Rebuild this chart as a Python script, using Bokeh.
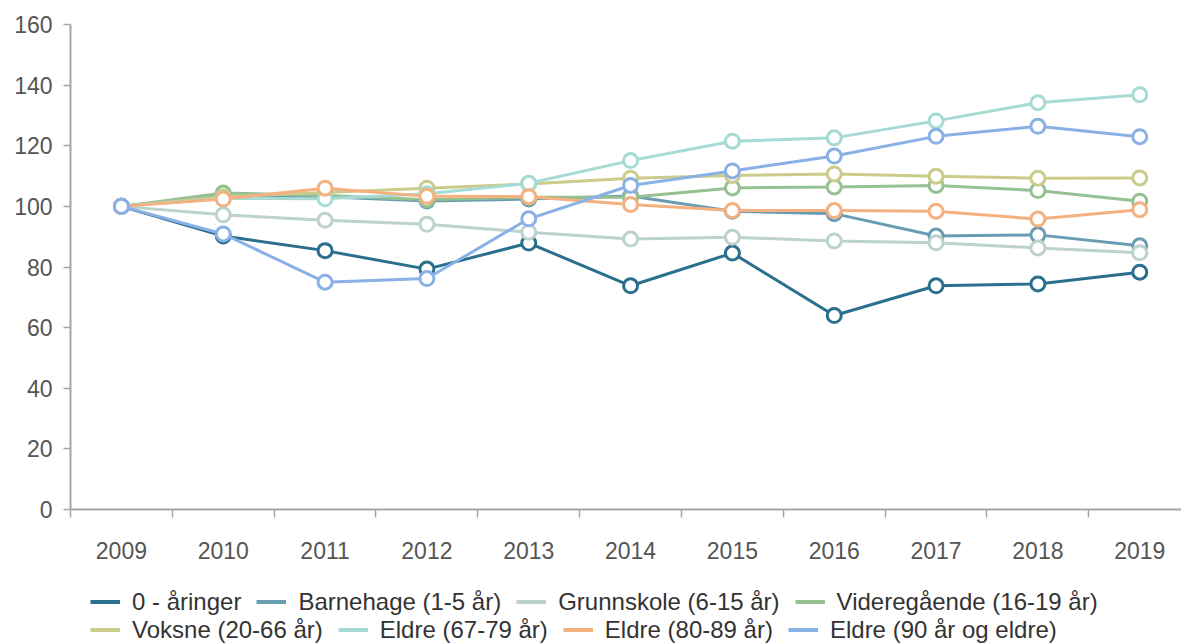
from bokeh.plotting import figure
from bokeh.models import Range1d, FixedTicker, Legend, LegendItem
from bokeh.layouts import column
from bokeh.embed import file_html
from bokeh.resources import INLINE

years = ["2009", "2010", "2011", "2012", "2013", "2014", "2015", "2016", "2017", "2018", "2019"]

names = [
    "0 - åringer",
    "Barnehage (1-5 år)",
    "Grunnskole (6-15 år)",
    "Videregående (16-19 år)",
    "Voksne (20-66 år)",
    "Eldre (67-79 år)",
    "Eldre (80-89 år)",
    "Eldre (90 år og eldre)",
]

aaringer = [100, 90.2, 85.4, 79.3, 87.9, 73.8, 84.6, 64.0, 73.8, 74.4, 78.3]
barnehage = [100, 103.5, 103.2, 101.8, 102.4, 103.4, 98.4, 97.6, 90.2, 90.6, 87.0]
grunnskole = [100, 97.2, 95.4, 94.1, 91.5, 89.2, 89.8, 88.6, 88.0, 86.3, 84.7]
videregaende = [100, 104.4, 103.6, 102.2, 103.0, 103.0, 106.1, 106.4, 106.9, 105.2, 101.7]
voksne = [100, 103.2, 104.6, 106.0, 107.4, 109.3, 110.2, 110.7, 109.9, 109.3, 109.4]
eldre_67_79 = [100, 102.6, 102.5, 104.2, 107.6, 115.1, 121.5, 122.6, 128.2, 134.2, 136.8]
eldre_80_89 = [100, 102.4, 106.0, 103.3, 103.2, 100.6, 98.6, 98.6, 98.4, 95.8, 98.9]
eldre_90 = [100, 90.9, 75.0, 76.2, 95.9, 106.9, 111.7, 116.6, 123.1, 126.4, 123.0]

series = [aaringer, barnehage, grunnskole, videregaende, voksne, eldre_67_79, eldre_80_89, eldre_90]
colors = ["#2b6f8e", "#6a9db2", "#bcd2cd", "#95c092", "#cbcb8b", "#a6dbd3", "#f4b07f", "#8ab1e6"]

y_ticks = [0, 20, 40, 60, 80, 100, 120, 140, 160]

FONT = "Liberation Sans"
x = list(range(len(years)))

# ---------------- main chart ----------------
p = figure(width=1181, height=585, output_backend="svg", toolbar_location=None,
           x_range=Range1d(-0.5, 10.41), y_range=Range1d(0, 160),
           min_border_left=70, min_border_right=0, min_border_top=24, min_border_bottom=76)
p.outline_line_color = None
p.xgrid.visible = False
p.ygrid.visible = False
p.background_fill_color = "white"
p.border_fill_color = "white"

# x axis: labels at category centres, tick marks at category boundaries
xa = p.xaxis[0]
xa.ticker = FixedTicker(ticks=x, minor_ticks=[i - 0.5 for i in range(len(years) + 1)])
xa.major_label_overrides = {i: y for i, y in enumerate(years)}
xa.major_tick_out = 0
xa.major_tick_in = 0
xa.minor_tick_out = 8
xa.minor_tick_in = 0
xa.minor_tick_line_color = "#a6a6a6"
xa.minor_tick_line_width = 1.5
xa.axis_line_color = "#a6a6a6"
xa.axis_line_width = 2
xa.major_label_text_font = FONT
xa.major_label_text_font_size = "23px"
xa.major_label_text_color = "#555555"
xa.major_label_standoff = 24

ya = p.yaxis[0]
ya.ticker = FixedTicker(ticks=y_ticks)
ya.major_tick_out = 7
ya.major_tick_in = 0
ya.minor_tick_line_color = None
ya.major_tick_line_color = "#a6a6a6"
ya.major_tick_line_width = 1.5
ya.axis_line_color = "#a6a6a6"
ya.axis_line_width = 2
ya.major_label_text_font = FONT
ya.major_label_text_font_size = "23px"
ya.major_label_text_color = "#555555"
ya.major_label_standoff = 11

for vals, c in zip(series, colors):
    p.line(x, vals, line_color=c, line_width=3)
    p.scatter(x, vals, size=14, line_color=c, line_width=3, fill_color="white")

# ---------------- legend strip ----------------
lg = figure(width=1181, height=59, output_backend="svg", toolbar_location=None,
            x_range=Range1d(0, 1), y_range=Range1d(0, 1),
            x_axis_location=None, y_axis_location=None,
            min_border_left=0, min_border_right=0, min_border_top=0, min_border_bottom=0)
lg.outline_line_color = None
lg.xgrid.visible = False
lg.ygrid.visible = False
lg.border_fill_color = "white"

nan = float("nan")
items = []
for name, c in zip(names, colors):
    # legend key only (no visible data)
    r = lg.line(x=[nan], y=[nan], line_color=c, line_width=4)
    items.append(LegendItem(label=name, renderers=[r]))

def make_legend(its, loc):
    return Legend(items=its, orientation="horizontal", location=loc,
                  glyph_width=30, glyph_height=29, label_height=29,
                  label_standoff=12, spacing=15, padding=0, margin=0,
                  border_line_color=None, background_fill_alpha=0,
                  label_text_font=FONT, label_text_font_size="24px",
                  label_text_color="#333333")

lg.add_layout(make_legend(items[:4], (20, 28)))
lg.add_layout(make_legend(items[4:], (20, 0)))

layout = column(p, lg, spacing=0)
open("out.html", "w").write(file_html(layout, INLINE))
